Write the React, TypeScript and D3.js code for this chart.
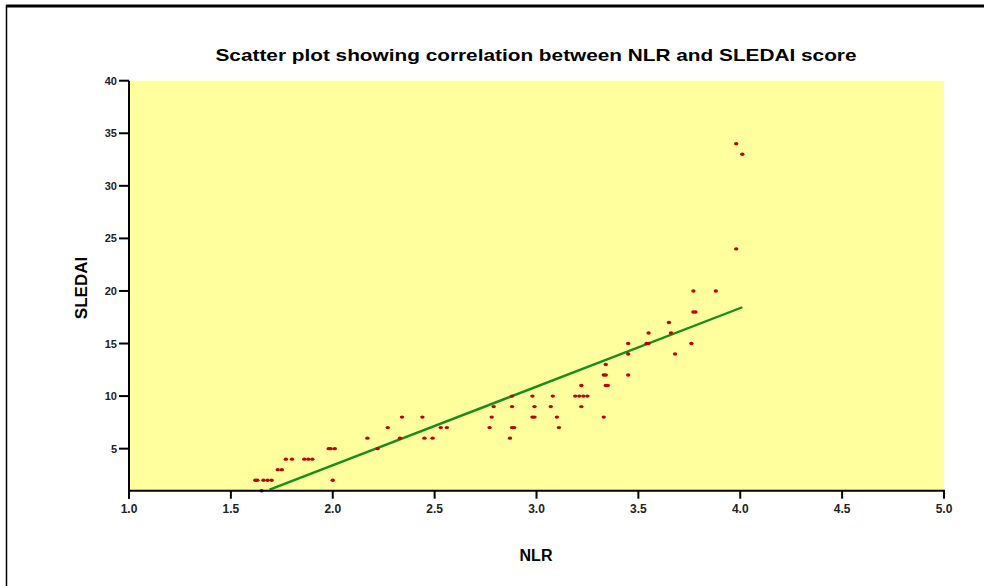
import React from "react";
import * as d3 from "d3";

const nlr = [
  1.65,
  1.62, 1.63, 1.66, 1.68, 1.70, 2.00,
  1.73, 1.75,
  1.77, 1.80, 1.86, 1.88, 1.90,
  1.98, 1.99, 2.01, 2.22,
  2.17, 2.33, 2.45, 2.49, 2.87,
  2.27, 2.53, 2.56, 2.77, 2.88, 2.89, 3.11,
  2.34, 2.44, 2.78, 2.98, 2.99, 3.10, 3.33,
  2.79, 2.88, 2.99, 3.07, 3.22,
  2.88, 2.98, 3.08, 3.19, 3.21, 3.23, 3.25,
  3.22, 3.34, 3.35,
  3.33, 3.34, 3.45,
  3.34,
  3.45, 3.68,
  3.45, 3.54, 3.55, 3.76,
  3.55, 3.66,
  3.65,
  3.77, 3.78,
  3.77, 3.88,
  3.98,
  4.01,
  3.98,
];
const sledai = [
  1,
  2, 2, 2, 2, 2, 2,
  3, 3,
  4, 4, 4, 4, 4,
  5, 5, 5, 5,
  6, 6, 6, 6, 6,
  7, 7, 7, 7, 7, 7, 7,
  8, 8, 8, 8, 8, 8, 8,
  9, 9, 9, 9, 9,
  10, 10, 10, 10, 10, 10, 10,
  11, 11, 11,
  12, 12, 12,
  13,
  14, 14,
  15, 15, 15, 15,
  16, 16,
  17,
  18, 18,
  20, 20,
  24,
  33,
  34,
];
const fitX = [1.69, 4.01];
const fitY = [1.1, 18.45];
const xTicks = [1.0, 1.5, 2.0, 2.5, 3.0, 3.5, 4.0, 4.5, 5.0];
const yTicks = [5, 10, 15, 20, 25, 30, 35, 40];

export default function App() {
  const W = 984, H = 586;
  const x = d3.scaleLinear().domain([1, 5]).range([129, 944]);
  const y = d3.scaleLinear().domain([1, 40]).range([490.7, 80.7]);
  const font = "'Liberation Sans', Arial, sans-serif";
  const line = d3.line<number>().x((d) => x(fitX[d])).y((d) => y(fitY[d]));
  return (
    <svg width={W} height={H} style={{ position: "absolute", left: 0, top: 0, background: "#fff" }} fontFamily={font}>
      {/* frame */}
      <line x1={6} x2={984} y1={6} y2={6} stroke="#000" strokeWidth={3} />
      <line x1={6.5} x2={6.5} y1={5} y2={586} stroke="#000" strokeWidth={1.5} />
      {/* plot background */}
      <rect x={x(1)} y={y(40)} width={x(5) - x(1)} height={y(1) - y(40)} fill="#ffff9e" />
      {/* title */}
      <text x={536} y={61} textAnchor="middle" fontSize={17} fontWeight="bold" textLength={641} lengthAdjust="spacingAndGlyphs">
        Scatter plot showing correlation between NLR and SLEDAI score
      </text>
      {/* regression line */}
      <path d={line([0, 1]) || ""} stroke="#1a8c1a" strokeWidth={2.4} fill="none" />
      {/* points */}
      {nlr.map((v, i) => (
        <ellipse key={i} cx={x(v)} cy={y(sledai[i])} rx={2.2} ry={1.7} fill="#c00000" />
      ))}
      {/* axes */}
      <line x1={x(1)} x2={x(5) + 1} y1={y(1)} y2={y(1)} stroke="#000" strokeWidth={2} />
      <line x1={x(1)} x2={x(1)} y1={y(40)} y2={y(1) + 8} stroke="#000" strokeWidth={2} />
      {xTicks.map((t) => (
        <g key={"x" + t}>
          <line x1={x(t)} x2={x(t)} y1={y(1)} y2={y(1) + 8} stroke="#000" strokeWidth={2} />
          <text x={x(t)} y={513} textAnchor="middle" fontSize={12} fontWeight="bold" fill="#222">
            {t.toFixed(1)}
          </text>
        </g>
      ))}
      {yTicks.map((t) => (
        <g key={"y" + t}>
          <line x1={x(1) - 10} x2={x(1)} y1={y(t)} y2={y(t)} stroke="#000" strokeWidth={2} />
          <text x={x(1) - 12} y={y(t) + 4} textAnchor="end" fontSize={11} fontWeight="bold" fill="#222">
            {t}
          </text>
        </g>
      ))}
      {/* axis labels */}
      <text x={536} y={561} textAnchor="middle" fontSize={16} fontWeight="bold">
        NLR
      </text>
      <text transform="translate(87,288) rotate(-90)" textAnchor="middle" fontSize={17} fontWeight="bold">
        SLEDAI
      </text>
    </svg>
  );
}
